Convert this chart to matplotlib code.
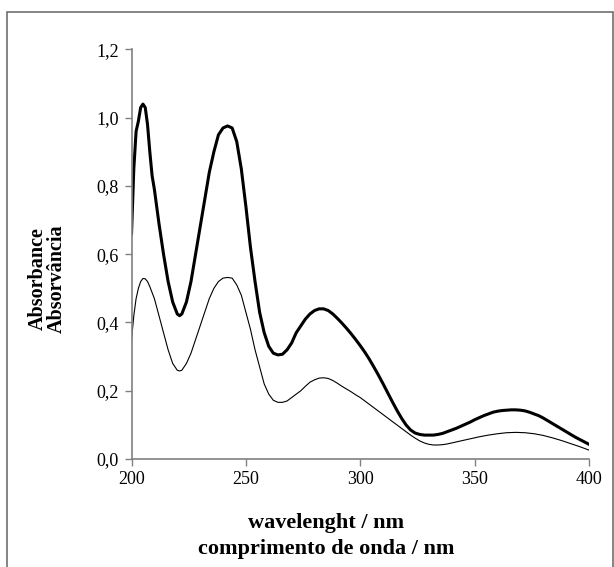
import matplotlib
matplotlib.use("Agg")
import matplotlib.pyplot as plt
from matplotlib.patches import Rectangle
from matplotlib.ticker import FuncFormatter

# wavelength / absorbance
thick_x = [200, 201, 202, 203, 204, 205, 206, 207, 208, 209, 210, 212, 214, 216, 218, 220,
           221, 222, 224, 226, 228, 230, 232, 234, 236, 238, 240, 242, 244, 246, 248, 250,
           252, 254, 256, 258, 260, 262, 264, 266, 268, 270, 272, 274, 276, 278, 280, 282,
           284, 286, 288, 290, 292, 294, 296, 298, 300, 302, 304, 306, 308, 310, 312, 314,
           316, 318, 320, 322, 324, 326, 328, 330, 332, 334, 336, 338, 340, 342, 344, 346,
           348, 350, 352, 354, 356, 358, 360, 362, 364, 366, 368, 370, 372, 374, 376, 378,
           380, 382, 384, 386, 388, 390, 392, 394, 396, 398, 400]
thick_y = [0.66, 0.85, 0.96, 0.99, 1.03, 1.04, 1.03, 0.98, 0.90, 0.83, 0.79, 0.69, 0.60, 0.52,
           0.46, 0.425, 0.42, 0.425, 0.46, 0.52, 0.60, 0.68, 0.76, 0.84, 0.90, 0.95, 0.97,
           0.976, 0.97, 0.93, 0.85, 0.74, 0.62, 0.52, 0.43, 0.37, 0.33, 0.31, 0.305, 0.307,
           0.32, 0.34, 0.37, 0.39, 0.41, 0.425, 0.435, 0.44, 0.44, 0.435, 0.425, 0.412, 0.398,
           0.383, 0.367, 0.35, 0.332, 0.313, 0.292, 0.269, 0.245, 0.22, 0.194, 0.168, 0.143,
           0.12, 0.10, 0.085, 0.076, 0.072, 0.070, 0.070, 0.070, 0.072, 0.075, 0.080, 0.085,
           0.090, 0.096, 0.102, 0.108, 0.115, 0.121, 0.127, 0.132, 0.137, 0.140, 0.142, 0.143,
           0.144, 0.144, 0.143, 0.141, 0.137, 0.132, 0.127, 0.120, 0.112, 0.104, 0.096, 0.088,
           0.080, 0.072, 0.064, 0.057, 0.050, 0.043]

thin_x = [200, 201, 202, 203, 204, 205, 206, 207, 208, 210, 212, 214, 216, 218, 220, 221,
          222, 224, 226, 228, 230, 232, 234, 236, 238, 240, 242, 244, 246, 248, 250, 252,
          254, 256, 258, 260, 262, 264, 266, 268, 270, 272, 274, 276, 278, 280, 282, 284,
          286, 288, 290, 292, 294, 296, 298, 300, 302, 304, 306, 308, 310, 312, 314, 316,
          318, 320, 322, 324, 326, 328, 330, 332, 334, 336, 338, 340, 344, 348, 352, 356,
          360, 364, 368, 372, 376, 380, 384, 388, 392, 396, 400]
thin_y = [0.35, 0.42, 0.47, 0.50, 0.52, 0.529, 0.528, 0.52, 0.505, 0.47, 0.42, 0.37, 0.32,
          0.28, 0.26, 0.258, 0.26, 0.28, 0.31, 0.35, 0.39, 0.43, 0.47, 0.50, 0.52, 0.53,
          0.532, 0.53, 0.51, 0.48, 0.43, 0.38, 0.32, 0.27, 0.22, 0.19, 0.172, 0.166, 0.166,
          0.17, 0.18, 0.19, 0.20, 0.213, 0.225, 0.232, 0.237, 0.238, 0.236, 0.23, 0.222,
          0.213, 0.205, 0.197, 0.188, 0.18, 0.17, 0.16, 0.15, 0.14, 0.13, 0.12, 0.11, 0.10,
          0.09, 0.08, 0.07, 0.061, 0.053, 0.047, 0.043, 0.041, 0.041, 0.042, 0.044, 0.047,
          0.053, 0.059, 0.065, 0.070, 0.074, 0.077, 0.078, 0.077, 0.074, 0.069, 0.062, 0.054,
          0.045, 0.036, 0.026]

x_ticks = [200, 250, 300, 350, 400]
y_ticks = [0.0, 0.2, 0.4, 0.6, 0.8, 1.0, 1.2]

plt.rcParams["font.family"] = ["Liberation Serif", "DejaVu Serif"]

fig = plt.figure(figsize=(6.14, 5.67), dpi=100)
ax = fig.add_axes([0.2142, 0.1905, 0.7451, 0.7222])

ax.plot(thick_x, thick_y, color="black", lw=2.2, solid_joinstyle="round")
ax.plot(thin_x, thin_y, color="black", lw=0.8)

ax.set_xlim(200, 400)
ax.set_ylim(0, 1.2)
ax.set_xticks(x_ticks)
ax.set_yticks(y_ticks)
ax.yaxis.set_major_formatter(FuncFormatter(lambda v, p: f"{v:.1f}".replace(".", ",")))
ax.tick_params(labelsize=13, direction="out", length=5, width=1, color="#808080", pad=4)

for s in ["top", "right"]:
    ax.spines[s].set_visible(False)
for s in ["left", "bottom"]:
    ax.spines[s].set_color("#808080")
    ax.spines[s].set_linewidth(1.2)

fig.text(326 / 614, 1 - 536 / 567, "wavelenght / nm\ncomprimento de onda / nm",
         ha="center", va="center", fontsize=16, fontweight="bold", linespacing=1.35)
fig.text(47 / 614, 1 - 279 / 567, "Absorbance\nAbsorvância", rotation=90,
         ha="center", va="center", fontsize=14.5, fontweight="bold", linespacing=0.92)

# outer frame
fig.patches.append(Rectangle((7 / 614, -0.01), 605.5 / 614, 1 - 12 / 567 + 0.01,
                             transform=fig.transFigure, fill=False,
                             edgecolor="#707070", lw=1.2))

fig.savefig("out.png", dpi=100)
